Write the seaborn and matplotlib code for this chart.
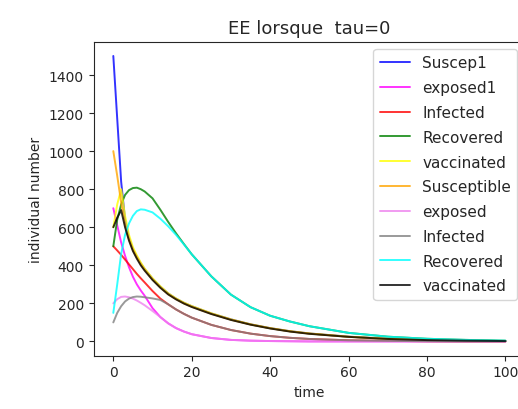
import matplotlib
matplotlib.use("Agg")
import matplotlib.pyplot as plt
import seaborn as sns
import pandas as pd

# time grid and the ten compartments
time = [0, 1, 2, 3, 4, 5, 6, 7, 8, 10, 12, 14, 16, 18, 20, 25, 30, 35, 40, 45, 50, 60, 70, 80, 90, 100]

suscep1 = [1500, 1170, 840, 640, 545, 485, 445, 410, 380, 330, 288, 252, 225, 203, 185, 147, 116, 90, 70, 54, 42, 25, 14, 8, 4, 2]
exposed1 = [700, 610, 520, 450, 390, 340, 300, 268, 240, 175, 128, 95, 70, 52, 38, 18, 8, 4, 2, 1, 0, 0, 0, 0, 0, 0]
infected1 = [500, 478, 455, 430, 405, 380, 355, 332, 310, 265, 225, 195, 168, 145, 125, 87, 60, 41, 28, 19, 13, 6, 3, 1, 0, 0]
recovered1 = [500, 640, 720, 770, 795, 806, 808, 800, 788, 752, 692, 628, 568, 512, 458, 342, 246, 180, 135, 105, 80, 45, 25, 14, 8, 4]
vaccinated1 = [600, 720, 800, 660, 560, 495, 452, 415, 383, 332, 290, 253, 226, 204, 186, 148, 116, 90, 70, 54, 42, 25, 14, 8, 4, 2]

susceptible2 = [1000, 870, 730, 610, 535, 480, 440, 405, 375, 325, 283, 248, 222, 200, 182, 145, 114, 89, 69, 53, 41, 24, 13, 7, 4, 2]
exposed2 = [200, 222, 234, 236, 232, 225, 215, 203, 190, 160, 128, 95, 70, 52, 38, 18, 8, 4, 2, 1, 0, 0, 0, 0, 0, 0]
infected2 = [100, 150, 185, 210, 225, 233, 236, 235, 232, 226, 218, 195, 168, 145, 125, 87, 60, 41, 28, 19, 13, 6, 3, 1, 0, 0]
recovered2 = [150, 300, 460, 560, 620, 660, 685, 694, 692, 678, 645, 605, 560, 510, 458, 342, 246, 180, 135, 105, 80, 45, 25, 14, 8, 4]
vaccinated2 = [600, 650, 690, 600, 530, 475, 435, 400, 372, 323, 282, 247, 221, 199, 181, 144, 113, 88, 68, 52, 40, 24, 13, 7, 4, 2]

labels = ["Suscep1", "exposed1", "Infected", "Recovered", "vaccinated",
          "Susceptible", "exposed", "Infected", "Recovered", "vaccinated"]
colors = ["blue", "magenta", "red", "green", "yellow",
          "orange", "violet", "grey", "cyan", "black"]
series = [suscep1, exposed1, infected1, recovered1, vaccinated1,
          susceptible2, exposed2, infected2, recovered2, vaccinated2]

sns.set_style("ticks")
plt.rcParams["font.family"] = ["DejaVu Sans"]
plt.rcParams["font.size"] = 10

W, H = 518, 410
fig = plt.figure(figsize=(W / 100, H / 100), dpi=100)
ax = fig.add_axes([93.7 / W, 1 - 356.7 / H, (525 - 93.7) / W, (356.7 - 42.7) / H])

for vals, lab, col in zip(series, labels, colors):
    df = pd.DataFrame({"time": time, "n": vals})
    sns.lineplot(data=df, x="time", y="n", color=col, label=lab, alpha=0.8, linewidth=1.4, ax=ax)

ax.set_xlabel("time")
ax.set_ylabel("individual number")
ax.set_title("EE lorsque  tau=0", fontsize=13)
ax.set_xticks([0, 20, 40, 60, 80, 100])
ax.set_yticks(range(0, 1401, 200))
ax.legend(loc="upper right", fontsize=11, labelspacing=0.64)

fig.savefig("out.png", dpi=100)
